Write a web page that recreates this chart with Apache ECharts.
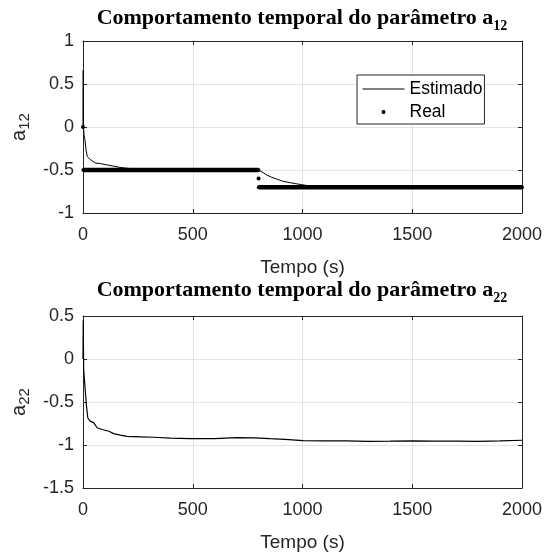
<!DOCTYPE html>
<html>
<head>
<meta charset="utf-8">
<script src="https://cdn.jsdelivr.net/npm/echarts@6/dist/echarts.min.js"></script>
<style>
  html, body { margin: 0; padding: 0; background: #fff; }
  #chart { width: 549px; height: 553px; }
</style>
</head>
<body>
<div id="chart"></div>
<script>
// a12 estimado
const a12Time = [0, 1, 2, 5, 9, 14, 20, 32, 45, 59, 80, 108, 140, 168, 200, 244, 300, 400, 500, 600, 700, 799,
    820, 837, 860, 882, 910, 943, 970, 996, 1030, 1070, 1150, 1250, 1350, 1420, 1480, 1550, 1620, 1700, 1800, 1900, 2000];
const a12Est = [0, 0.66, 0.0, -0.1, -0.15, -0.27, -0.345, -0.376, -0.4, -0.42, -0.425, -0.44, -0.455, -0.47, -0.48, -0.49, -0.495, -0.5, -0.5, -0.5, -0.5, -0.5,
    -0.53, -0.558, -0.585, -0.605, -0.63, -0.647, -0.66, -0.67, -0.685, -0.695, -0.7, -0.7, -0.695, -0.685, -0.68, -0.685, -0.695, -0.7, -0.7, -0.7, -0.7];

// a12 real (segmentos separados)
const realTime = [0, 2, 799, 800, 801, 2000];
const realValue = [0, -0.5, -0.5, -0.6, -0.7, -0.7];
const realSegment = [0, 1, 1, 2, 3, 3];

// a22 estimado
const a22Time = [0, 1, 3, 10, 16, 22, 34, 49, 64, 87, 118, 140, 170, 200, 260, 322, 400, 489, 600, 700, 780, 851,
    920, 1003, 1100, 1200, 1300, 1400, 1500, 1600, 1700, 1800, 1900, 2000];
const a22Est = [0, 0.45, -0.124, -0.357, -0.55, -0.686, -0.725, -0.74, -0.8, -0.82, -0.84, -0.868, -0.885, -0.9, -0.905, -0.91, -0.92, -0.927, -0.925, -0.915, -0.918, -0.927,
    -0.935, -0.95, -0.952, -0.953, -0.957, -0.955, -0.952, -0.954, -0.955, -0.958, -0.952, -0.945];

const AXIS_COLOR = "#262626";
const GRID_COLOR = "#e3e3e3";
const SANS = "Liberation Sans";
const SERIF = "Liberation Serif";

function pairs(ts, vs) {
    return ts.map((t, i) => [t, vs[i]]);
}

// monta os segmentos do valor real com quebras (null) entre eles
function realData() {
    const out = [];
    realTime.forEach((t, i) => {
        if (i > 0 && realSegment[i] !== realSegment[i - 1]) out.push([t, null]);
        out.push([t, realValue[i]]);
    });
    return out;
}

function titleText(sub) {
    return "{m|Comportamento temporal do parâmetro a}{s|" + sub + "}";
}

const titleRich = {
    m: { fontFamily: SERIF, fontWeight: "bold", fontSize: 22, color: "#000", lineHeight: 24 },
    s: { fontFamily: SERIF, fontWeight: "bold", fontSize: 14, color: "#000", lineHeight: 24, padding: [17, 0, 0, 0] }
};

const yNameRich = {
    m: { fontFamily: SANS, fontSize: 20, color: AXIS_COLOR, lineHeight: 22 },
    s: { fontFamily: SANS, fontSize: 15, color: AXIS_COLOR, lineHeight: 22, padding: [11, 0, 0, 0] }
};

const plainNumber = (v) => String(v);

function mainX(gridIndex) {
    return {
        type: "value", gridIndex, min: 0, max: 2000, interval: 500,
        name: "Tempo (s)", nameLocation: "middle", nameGap: 45,
        nameTextStyle: { fontFamily: SANS, fontSize: 19, color: AXIS_COLOR },
        axisLine: { show: true, onZero: false, lineStyle: { color: AXIS_COLOR } },
        axisTick: { show: true, inside: true, length: 4, lineStyle: { color: AXIS_COLOR } },
        axisLabel: { fontFamily: SANS, fontSize: 18, color: AXIS_COLOR, margin: 13, formatter: plainNumber },
        splitLine: { show: true, lineStyle: { color: GRID_COLOR } }
    };
}

function boxX(gridIndex) {
    return {
        type: "value", gridIndex, position: "top", min: 0, max: 2000, interval: 500,
        axisLine: { show: true, onZero: false, lineStyle: { color: AXIS_COLOR } },
        axisTick: { show: true, inside: true, length: 4, lineStyle: { color: AXIS_COLOR } },
        axisLabel: { show: false }, splitLine: { show: false }
    };
}

function mainY(gridIndex, min, max, sub) {
    return {
        type: "value", gridIndex, min, max, interval: 0.5,
        name: "{m|a}{s|" + sub + "}", nameLocation: "middle", nameGap: 52, nameRotate: 90,
        nameTextStyle: { rich: yNameRich },
        axisLine: { show: true, onZero: false, lineStyle: { color: AXIS_COLOR } },
        axisTick: { show: true, inside: true, length: 4, lineStyle: { color: AXIS_COLOR } },
        axisLabel: { fontFamily: SANS, fontSize: 18, color: AXIS_COLOR, margin: 9, formatter: plainNumber },
        splitLine: { show: true, lineStyle: { color: GRID_COLOR } }
    };
}

function boxY(gridIndex, min, max) {
    return {
        type: "value", gridIndex, position: "right", min, max, interval: 0.5,
        axisLine: { show: true, onZero: false, lineStyle: { color: AXIS_COLOR } },
        axisTick: { show: true, inside: true, length: 4, lineStyle: { color: AXIS_COLOR } },
        axisLabel: { show: false }, splitLine: { show: false }
    };
}

const chart = echarts.init(document.getElementById("chart"));

chart.setOption({
    animation: false,
    backgroundColor: "#fff",
    title: [
        { text: titleText("12"), left: 297, top: 1, textAlign: "center", textStyle: { rich: titleRich } },
        { text: titleText("22"), left: 297, top: 273, textAlign: "center", textStyle: { rich: titleRich } }
    ],
    legend: {
        data: [
            { name: "Estimado", itemStyle: { opacity: 0 }, lineStyle: { width: 1, color: "#000" } },
            { name: "Real", icon: "circle", itemStyle: { color: "#000" } }
        ],
        orient: "vertical",
        left: 357, top: 75,
        itemWidth: 42, itemHeight: 4, itemGap: 5,
        padding: [5, 2, 3, 5],
        backgroundColor: "#fff",
        borderColor: AXIS_COLOR, borderWidth: 1, borderRadius: 0,
        textStyle: { fontFamily: SANS, fontSize: 17.5, color: "#000" }
    },
    grid: [
        { left: 83, right: 27, top: 41, height: 172, outerBoundsMode: "none" },
        { left: 83, right: 27, top: 316, height: 172, outerBoundsMode: "none" }
    ],
    xAxis: [mainX(0), boxX(0), mainX(1), boxX(1)],
    yAxis: [mainY(0, -1, 1, "12"), boxY(0, -1, 1), mainY(1, -1.5, 0.5, "22"), boxY(1, -1.5, 0.5)],
    series: [
        {
            name: "Real", type: "line", xAxisIndex: 0, yAxisIndex: 0,
            data: realData(), connectNulls: false,
            showSymbol: true, showAllSymbol: true, symbol: "circle", symbolSize: 4,
            itemStyle: { color: "#000" },
            lineStyle: { color: "#000", width: 4.5 },
            z: 3
        },
        {
            name: "Estimado", type: "line", xAxisIndex: 0, yAxisIndex: 0,
            data: pairs(a12Time, a12Est), symbol: "none",
            itemStyle: { color: "#000" },
            lineStyle: { color: "#000", width: 1 },
            z: 4
        },
        {
            name: "a22 Estimado", type: "line", xAxisIndex: 2, yAxisIndex: 2,
            data: pairs(a22Time, a22Est), symbol: "none",
            itemStyle: { color: "#000" },
            lineStyle: { color: "#000", width: 1.2 }
        }
    ]
});
</script>
</body>
</html>
